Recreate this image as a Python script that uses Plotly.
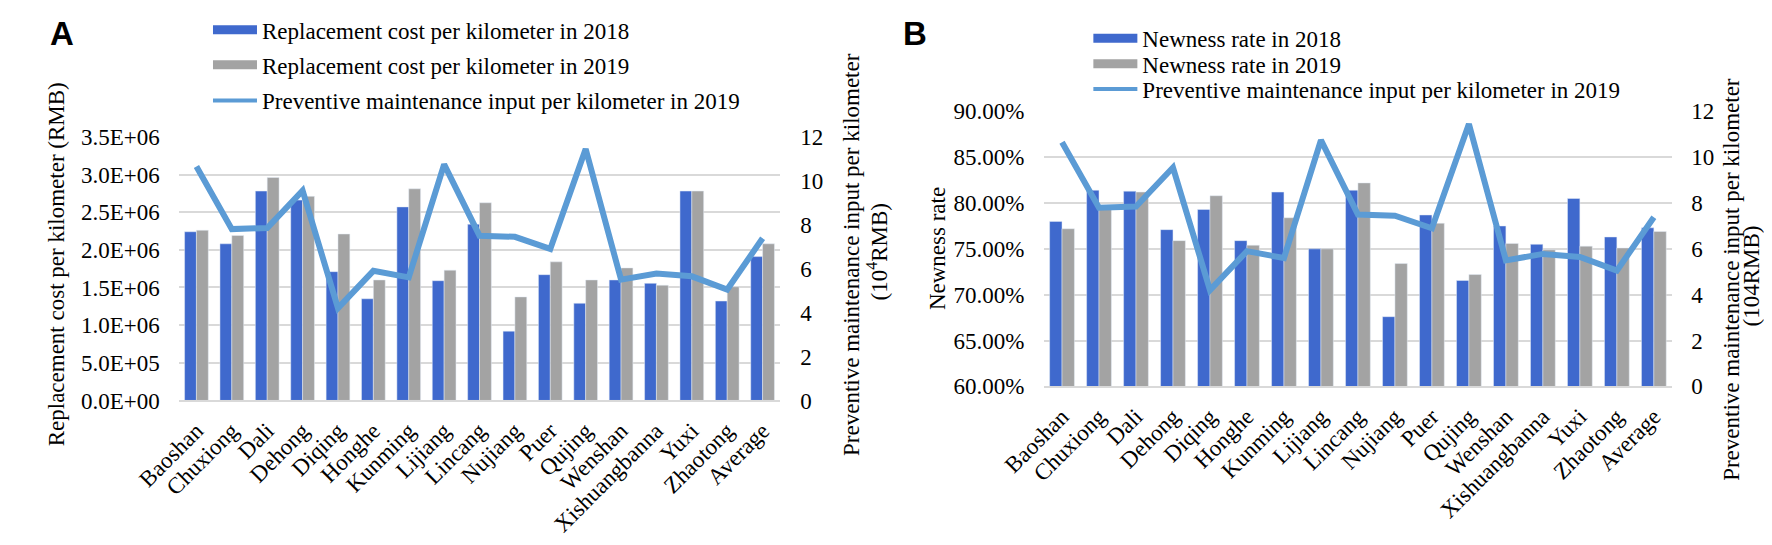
import plotly.graph_objects as go

# Page body has an 8px default margin, so the figure is laid out in
# screen coordinates minus 8 px.
OFF = 8
W, H = 1772 - 2 * OFF, 545 - 2 * OFF

categories = ["Baoshan", "Chuxiong", "Dali", "Dehong", "Diqing", "Honghe", "Kunming",
              "Lijiang", "Lincang", "Nujiang", "Puer", "Qujing", "Wenshan",
              "Xishuangbanna", "Yuxi", "Zhaotong", "Average"]

cost_2018 = [2.24e6, 2.08e6, 2.78e6, 2.66e6, 1.71e6, 1.35e6, 2.57e6, 1.59e6, 2.34e6,
             0.92e6, 1.67e6, 1.29e6, 1.60e6, 1.555e6, 2.78e6, 1.32e6, 1.91e6]
cost_2019 = [2.26e6, 2.19e6, 2.96e6, 2.71e6, 2.21e6, 1.60e6, 2.81e6, 1.73e6, 2.625e6,
             1.375e6, 1.84e6, 1.60e6, 1.76e6, 1.53e6, 2.78e6, 1.51e6, 2.08e6]

newness_2018 = [0.780, 0.814, 0.813, 0.771, 0.793, 0.759, 0.812, 0.750, 0.814,
                0.676, 0.787, 0.7155, 0.775, 0.755, 0.805, 0.763, 0.773]
newness_2019 = [0.772, 0.796, 0.812, 0.759, 0.808, 0.754, 0.784, 0.750, 0.822,
                0.734, 0.778, 0.722, 0.756, 0.749, 0.753, 0.751, 0.769]

pm_input_2019 = [10.65, 7.8, 7.85, 9.55, 4.2, 5.9, 5.6, 10.75, 7.5, 7.45, 6.9,
                 11.45, 5.5, 5.78, 5.65, 5.05, 7.38]

left_a_ticks = [0, 5e5, 1e6, 1.5e6, 2e6, 2.5e6, 3e6, 3.5e6]
left_a_text = ["0.0E+00", "5.0E+05", "1.0E+06", "1.5E+06", "2.0E+06", "2.5E+06",
               "3.0E+06", "3.5E+06"]
right_ticks = [0, 2, 4, 6, 8, 10, 12]

BLUE = "#3F69CD"
GRAY = "#A3A3A3"
LINE = "#5B9BD5"
GRID = "#D9D9D9"
FONT = "Liberation Serif"
FS = 23


def px(x):
    """screen x -> paper fraction"""
    return (x - OFF) / W


def py(y):
    """screen y -> paper fraction"""
    return 1 - (y - OFF) / H


fig = go.Figure()

# Panel A
fig.add_trace(go.Bar(x=categories, y=cost_2018, marker_color=BLUE, xaxis="x", yaxis="y",
                     showlegend=False, offsetgroup="a1"))
fig.add_trace(go.Bar(x=categories, y=cost_2019, marker_color=GRAY, xaxis="x", yaxis="y",
                     showlegend=False, offsetgroup="a2"))
fig.add_trace(go.Scatter(x=categories, y=pm_input_2019, mode="lines",
                         line=dict(color=LINE, width=6), xaxis="x", yaxis="y2",
                         showlegend=False))
# Panel B
fig.add_trace(go.Bar(x=categories, y=newness_2018, marker_color=BLUE, xaxis="x3", yaxis="y3",
                     showlegend=False, offsetgroup="b1"))
fig.add_trace(go.Bar(x=categories, y=newness_2019, marker_color=GRAY, xaxis="x3", yaxis="y3",
                     showlegend=False, offsetgroup="b2"))
fig.add_trace(go.Scatter(x=categories, y=pm_input_2019, mode="lines",
                         line=dict(color=LINE, width=6), xaxis="x3", yaxis="y4",
                         showlegend=False))

# Legend entries (wide symbols like the reference), one legend per row
legA = [("Replacement cost per kilometer in 2018", BLUE, 9),
        ("Replacement cost per kilometer in 2019", GRAY, 9),
        ("Preventive maintenance input per kilometer in 2019", LINE, 4)]
legB = [("Newness rate in 2018", BLUE, 9),
        ("Newness rate in 2019", GRAY, 9),
        ("Preventive maintenance input per kilometer in 2019", LINE, 4)]
rowsA = [15, 52, 90]
rowsB = [24, 51, 78]

legend_layout = {}
k = 1
for items, rows, xl, xa, ya in [(legA, rowsA, 168, "x", "y"), (legB, rowsB, 1071, "x3", "y3")]:
    for (name, col, w), r in zip(items, rows):
        lname = "legend" if k == 1 else "legend%d" % k
        fig.add_trace(go.Scatter(x=[None], y=[None], mode="lines", name=name,
                                 line=dict(color=col, width=w), xaxis=xa, yaxis=ya,
                                 legend=lname))
        legend_layout[lname] = dict(x=px(xl), y=py(r - 21.5), xanchor="left",
                                    yanchor="top", bgcolor="rgba(0,0,0,0)",
                                    itemwidth=44, font=dict(family=FONT, size=FS))
        k += 1

tickfont = dict(family=FONT, size=FS, color="black")

xa_common = dict(tickangle=-45, tickfont=tickfont, showgrid=False, showline=True,
                 linecolor=GRID, linewidth=1.5, ticks="", ticklabelstandoff=6,
                 categoryorder="array", categoryarray=categories)

fig.update_layout(
    width=W, height=H,
    margin=dict(l=0, r=0, t=0, b=0),
    paper_bgcolor="white", plot_bgcolor="white",
    font=dict(family=FONT, size=FS, color="black"),
    barmode="group", bargap=0.33, bargroupgap=0,
    xaxis=dict(domain=[px(138), px(755)], anchor="y", **xa_common),
    yaxis=dict(domain=[py(410), py(130)], range=[0, 3.5e6], tickvals=left_a_ticks,
               ticktext=left_a_text, tickfont=tickfont, showgrid=True, gridcolor=GRID,
               gridwidth=1.5, zeroline=False, showline=False, ticks="",
               ticklabelstandoff=18, anchor="x"),
    yaxis2=dict(domain=[py(410), py(130)], range=[0, 12], tickvals=right_ticks,
                tickfont=tickfont, overlaying="y", side="right", showgrid=False,
                zeroline=False, showline=False, ticks="", ticklabelstandoff=19,
                anchor="x"),
    xaxis3=dict(domain=[px(1025), px(1670)], anchor="y3", **xa_common),
    yaxis3=dict(domain=[py(395), py(103)], range=[0.6, 0.9], dtick=0.05,
                tickformat=".2%", tickfont=tickfont, showgrid=True, gridcolor=GRID,
                gridwidth=1.5, zeroline=False, showline=False, ticks="",
                ticklabelstandoff=18, anchor="x3"),
    yaxis4=dict(domain=[py(395), py(103)], range=[0, 12], tickvals=right_ticks,
                tickfont=tickfont, overlaying="y3", side="right", showgrid=False,
                zeroline=False, showline=False, ticks="", ticklabelstandoff=18,
                anchor="x3"),
    **legend_layout,
)

# Panel labels
fig.add_annotation(text="<b>A</b>", x=px(18.5), y=py(20), xref="paper", yref="paper",
                   xanchor="center", yanchor="middle", showarrow=False,
                   font=dict(family="Liberation Sans", size=33, color="black"))
fig.add_annotation(text="<b>B</b>", x=px(893), y=py(20), xref="paper", yref="paper",
                   xanchor="center", yanchor="middle", showarrow=False,
                   font=dict(family="Liberation Sans", size=33, color="black"))


def vtitle(text, x, y):
    fig.add_annotation(text=text, x=px(x), y=py(y), xref="paper", yref="paper",
                       textangle=-90, showarrow=False, xanchor="center",
                       yanchor="middle", font=dict(family=FONT, size=FS))


# Axis titles
vtitle("Replacement cost per kilometer (RMB)", 13.5, 265)
vtitle("Preventive maintenance input per kilometer", 828, 255)
vtitle("(10<sup>4</sup>RMB)", 855, 252)
vtitle("Newness rate", 917, 249)
vtitle("Preventive maintenance input per kilometer", 1730, 281)
vtitle("(104RMB)", 1751, 278)

fig.write_html("out.html")
